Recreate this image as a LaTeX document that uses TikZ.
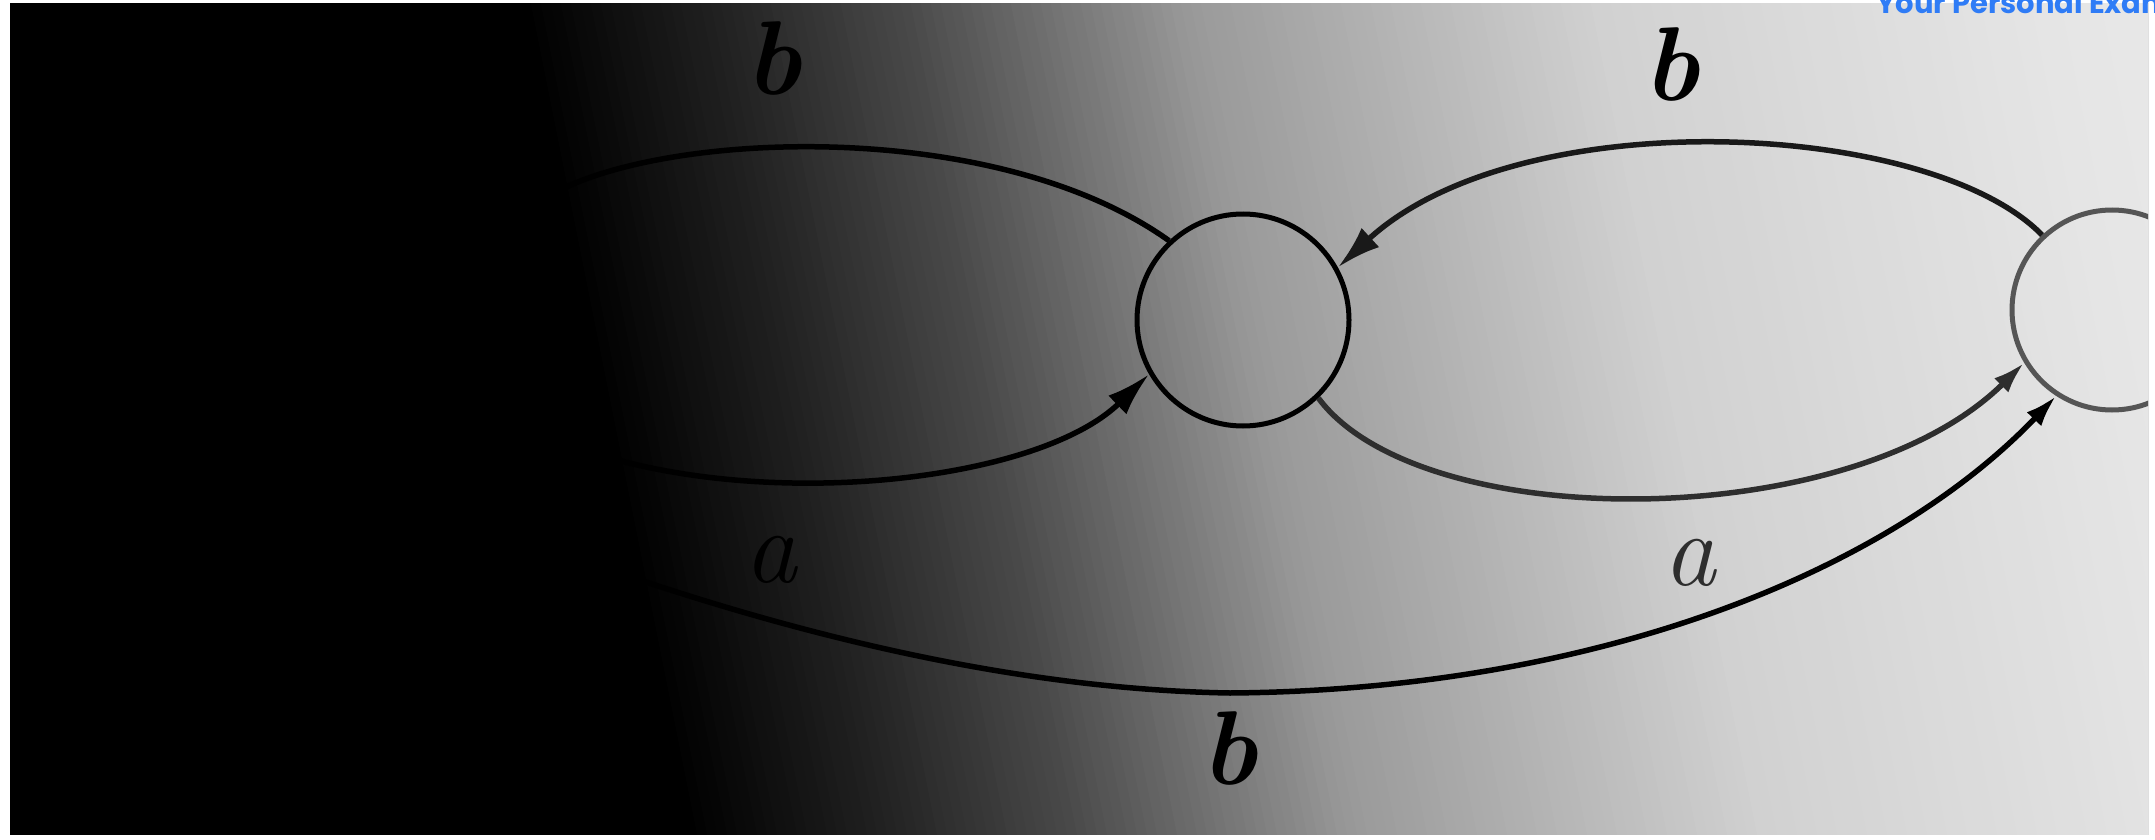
\documentclass[tikz,border=0pt]{standalone}
\usepackage{fontspec}
\newfontfamily\poppins{Poppins}
\usetikzlibrary{arrows.meta}
\definecolor{examblue}{HTML}{2F7CF6}
\definecolor{rgray}{HTML}{555555}
\definecolor{cgray}{HTML}{2E2E2E}
\tikzset{
  state/.style={circle, draw=black, line width=5pt, inner sep=0pt},
  edge/.style={draw=black, line width=5.5pt},
  bighead/.style={-{Latex[length=44pt,width=26pt]}},
  smallhead/.style={-{Latex[length=32pt,width=20pt]}},
  lab/.style={inner sep=0pt, font=\fontsize{105}{105}\selectfont},
}
\begin{document}
\begin{tikzpicture}[x=1pt,y=-1pt]
\useasboundingbox (0,0) rectangle (2155,840);
\fill[white] (0,0) rectangle (2155,840);
\begin{scope}
  \clip (10,4) rectangle (2148,834);
  \fill[black] (0,0) rectangle (2155,840);
  \foreach \u in {520,530,...,2150}{
    \pgfmathsetmacro\brt{min(91,0.0677*max(0,\u-520)+0.0165*max(0,\u-712)+0.0265*max(0,\u-902)-0.05705*max(0,\u-1182)-0.03588*max(0,\u-1592)-0.01145*max(0,\u-2042))}
    \fill[white!\brt!black] (\u,0) -- (\u+11,0) -- (\u+179,840) -- (\u+168,840) -- cycle;
  }
  % states
  \node[state, minimum size=212pt] (M) at (1243,320) {};
  \node[state, draw=rgray, minimum size=200pt] (R) at (2112,310) {};
  % free ends in the dark part of the photo
  \coordinate (ul) at (560,190);
  \coordinate (ll) at (600,455);
  \coordinate (bl) at (640,580);
  % connectors
  \draw[edge] (ul) .. controls (680,130) and (1000,120) .. (M.133);
  \draw[edge, bighead] (ll) .. controls (780,510) and (1040,480) .. (M.210);
  \draw[edge, draw=black!90, bighead] (R.133) .. controls (1930,120) and (1520,100) .. (M.29);
  \draw[edge, draw=cgray, smallhead] (M.314) .. controls (1420,535) and (1850,535) .. (R.211);
  \draw[edge, smallhead] (bl) .. controls (850,650) and (1050,690) .. (1230,693)
        .. controls (1600,690) and (1890,570) .. (R.237);
  % labels
  \node[lab] (l1) at (773,58) {\bfseries\itshape b};
  \node[lab] (l2) at (1671,64) {\bfseries\itshape b};
  \node[lab, text=black] (l3) at (771,560) {\itshape a};
  \node[lab, text=cgray] (l4) at (1690,563) {\itshape a};
  \node[lab] (l5) at (1229,748) {\bfseries\itshape b};
\end{scope}
\begin{scope}
  \clip (0,0) rectangle (2155,840);
  \node[anchor=base west, inner sep=0pt, text=examblue,
        font=\poppins\bfseries\fontsize{29}{29}\selectfont] (wm) at (1876,14) {Your Personal Exam};
\end{scope}
\end{tikzpicture}
\end{document}
